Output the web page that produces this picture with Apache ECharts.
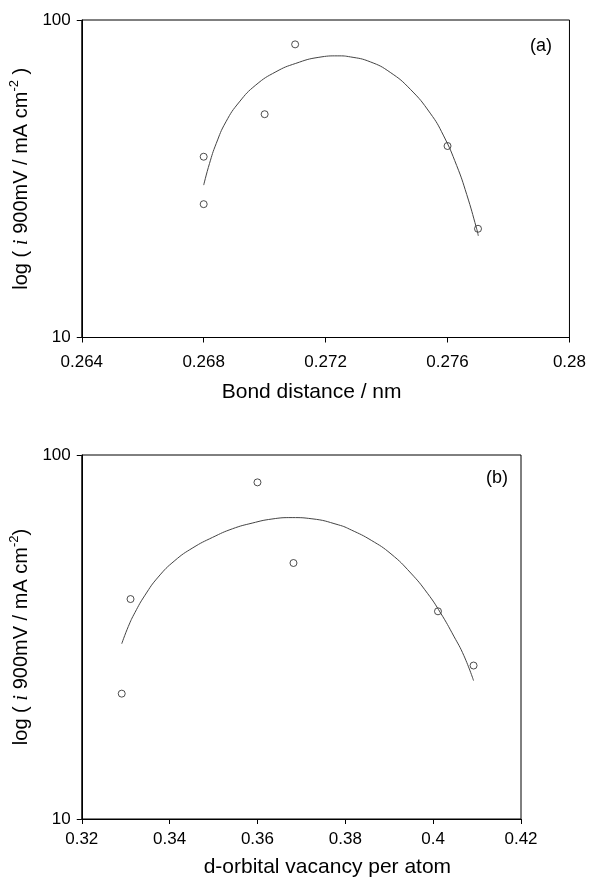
<!DOCTYPE html>
<html>
<head>
<meta charset="utf-8">
<script src="https://cdn.jsdelivr.net/npm/echarts@6/dist/echarts.min.js"></script>
<style>
  html,body{margin:0;padding:0;background:#fff;}
  #chart{width:589px;height:879px;}
</style>
</head>
<body>
<div id="chart"></div>
<script>
// panel (a): bond distance
var bondTicks = [0.264, 0.268, 0.272, 0.276, 0.28];
var bondPoints = [
  [0.268, 37.1], [0.268, 26.3], [0.270, 50.5],
  [0.271, 83.8], [0.276, 40.1], [0.277, 22.0]
];
var bondFit = [
  [0.26800, 30.2], [0.26819, 35.3], [0.26841, 40.8], [0.26873, 47.8],
  [0.26917, 55.2], [0.26971, 62.4], [0.27037, 68.7], [0.27102, 73.0],
  [0.27178, 76.3], [0.27240, 77.1], [0.27282, 76.5], [0.27347, 73.8],
  [0.27412, 68.4], [0.27478, 60.5], [0.27543, 50.9], [0.27586, 43.4],
  [0.27630, 34.8], [0.27663, 28.2], [0.27695, 22.1], [0.27701, 20.9]
];
// panel (b): d-orbital vacancy
var vacTicks = [0.32, 0.34, 0.36, 0.38, 0.40, 0.42];
var vacPoints = [
  [0.3291, 22.1], [0.3311, 40.2], [0.3600, 84.1],
  [0.3682, 50.5], [0.4011, 37.2], [0.4092, 26.4]
];
var vacFit = [
  [0.3291, 30.3], [0.3306, 33.8], [0.3321, 36.9], [0.3344, 41.2],
  [0.3374, 46.2], [0.3412, 51.3], [0.3453, 55.6], [0.3498, 59.4],
  [0.3543, 62.7], [0.3588, 65.0], [0.3633, 66.7], [0.3679, 67.3],
  [0.3724, 66.8], [0.3784, 64.3], [0.3814, 62.2], [0.3859, 58.3],
  [0.3904, 53.5], [0.3949, 47.4], [0.3987, 41.7], [0.4017, 36.8],
  [0.4047, 31.8], [0.4070, 28.1], [0.4092, 24.0]
];
var yTicks = [10, 100];

var FONT = "Liberation Sans, Arial, sans-serif";
var BLACK = "#000";

function xAxisFor(idx, ticks, name, pad, gap, margin){
  return {
    type:"value", gridIndex:idx,
    min:ticks[0], max:ticks[ticks.length-1], interval:ticks[1]-ticks[0],
    axisLine:{show:true, onZero:false, lineStyle:{color:BLACK, width:1}},
    axisTick:{show:true, length:5, lineStyle:{color:BLACK}},
    splitLine:{show:false},
    axisLabel:{color:BLACK, fontSize:17, fontFamily:FONT, margin:margin,
      formatter:function(v){ return String(+(+v).toFixed(3)); }},
    name:name, nameLocation:"middle", nameGap:gap,
    nameTextStyle:{color:BLACK, fontSize:21, fontFamily:FONT, padding:pad}
  };
}
function yAxisFor(idx, tail, gap){
  return {
    type:"log", logBase:10, gridIndex:idx,
    min:yTicks[0], max:yTicks[yTicks.length-1],
    axisLine:{show:true, onZero:false, lineStyle:{color:BLACK, width:1}},
    axisTick:{show:true, length:5, lineStyle:{color:BLACK}},
    minorTick:{show:false},
    splitLine:{show:false},
    axisLabel:{color:BLACK, fontSize:17, fontFamily:FONT, margin:11},
    name:"{a|log ( }{i|i}{a| 900mV / mA cm}{s|-2}{a|" + tail + "}",
    nameLocation:"middle", nameGap:gap,
    nameTextStyle:{color:BLACK, fontSize:20, fontFamily:FONT,
      rich:{
        a:{fontSize:20, fontFamily:FONT, color:BLACK, lineHeight:26},
        i:{fontSize:21, fontFamily:"Liberation Serif, Times New Roman, serif", fontStyle:"italic", color:BLACK, lineHeight:26},
        s:{fontSize:13, fontFamily:FONT, color:BLACK, verticalAlign:"top", lineHeight:14}
      }}
  };
}
function pointSeries(idx, data){
  return { type:"scatter", xAxisIndex:idx, yAxisIndex:idx, data:data,
    symbol:"circle", symbolSize:7, z:3,
    itemStyle:{color:"rgba(255,255,255,0)", borderColor:"#222", borderWidth:1},
    emphasis:{disabled:true} };
}
function fitSeries(idx, data){
  return { type:"line", xAxisIndex:idx, yAxisIndex:idx, data:data,
    smooth:0.5, showSymbol:false, symbol:"none", z:4,
    lineStyle:{color:"#444", width:1}, emphasis:{disabled:true} };
}

var chart = echarts.init(document.getElementById("chart"), null, {renderer:"canvas"});
chart.setOption({
  animation:false,
  backgroundColor:"#fff",
  textStyle:{fontFamily:FONT},
  grid:[
    {left:80, top:20, width:490, height:317.5, show:true, borderColor:BLACK, borderWidth:1, backgroundColor:"transparent", containLabel:false},
    {left:78, top:455, width:443, height:366, show:true, borderColor:BLACK, borderWidth:1, backgroundColor:"transparent", containLabel:false}
  ],
  xAxis:[
    xAxisFor(0, bondTicks, "Bond distance / nm", [0,28,0,0], 44, 16),
    xAxisFor(1, vacTicks, "d-orbital vacancy per atom", [0,0,0,52], 38, 12)
  ],
  yAxis:[
    yAxisFor(0, " )", 41),
    yAxisFor(1, ")", 36)
  ],
  graphic:[
    {type:"text", left:530, top:37, style:{text:"(a)", fill:BLACK, font:"18px " + FONT}},
    {type:"text", left:486, top:469, style:{text:"(b)", fill:BLACK, font:"18px " + FONT}}
  ],
  series:[
    pointSeries(0, bondPoints), fitSeries(0, bondFit),
    pointSeries(1, vacPoints), fitSeries(1, vacFit)
  ]
});
</script>
</body>
</html>
